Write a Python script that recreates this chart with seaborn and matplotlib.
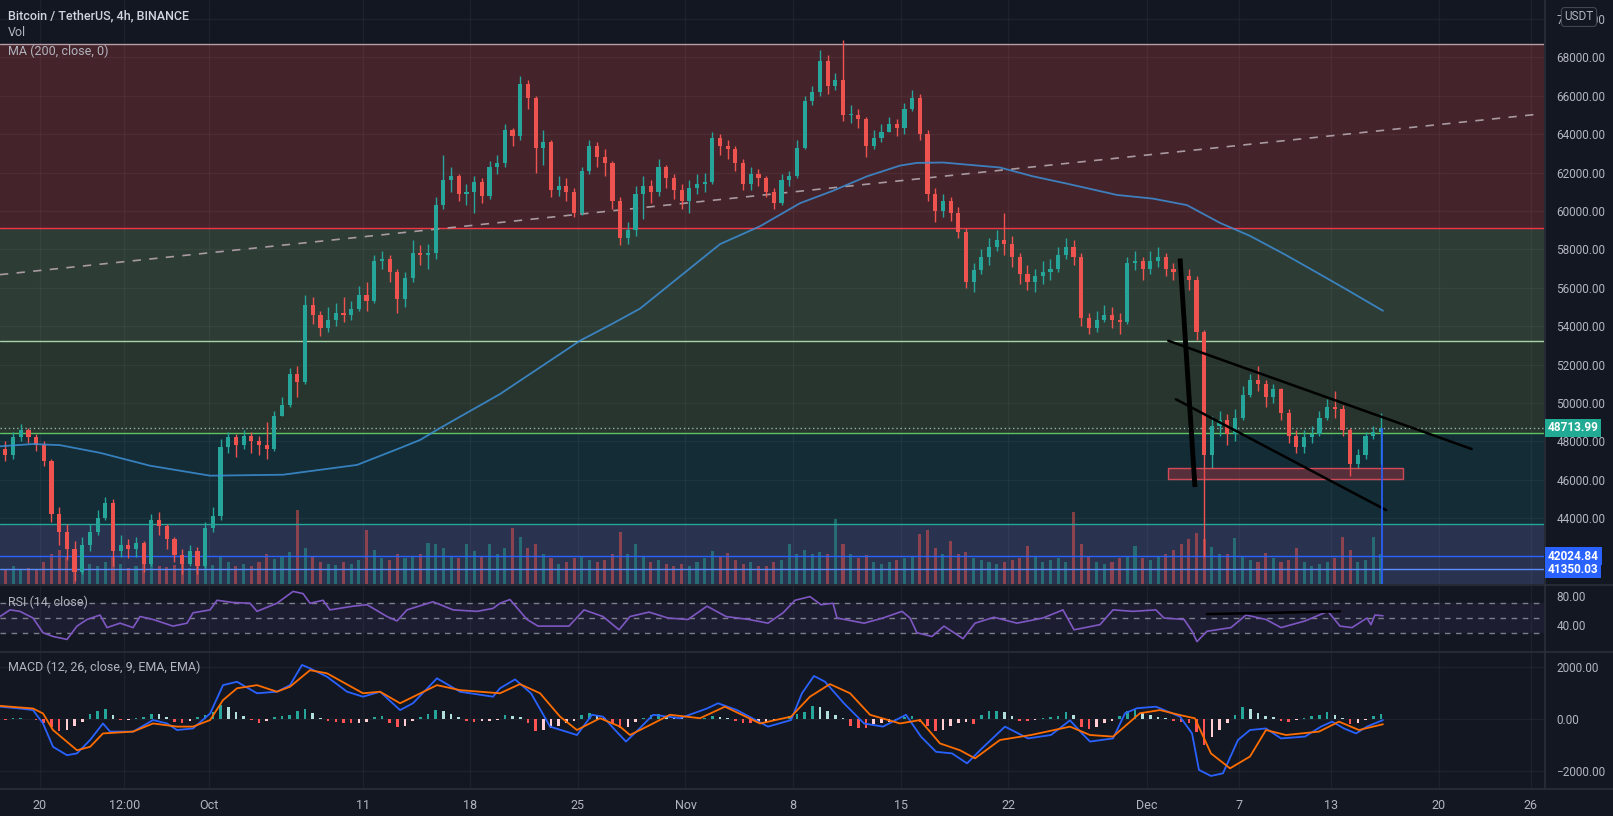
import numpy as np
import pandas as pd
import matplotlib
matplotlib.use("Agg")
import matplotlib.pyplot as plt
import seaborn as sns
from matplotlib.lines import Line2D
from matplotlib.patches import Rectangle

sns.set_theme(style="dark")
plt.rcParams['font.family'] = ['Roboto', 'DejaVu Sans']

# ---------------- data ----------------
first_open = 47600
closes = [47300, 48200, 48600, 48200, 47800, 47000, 44200, 43300, 42400, 41200,
          42600, 43300, 44000, 44800, 42300, 42600, 42400, 42700, 41600, 43900,
          43600, 42900, 42100, 41600, 42300, 41500, 43500, 44100, 47700, 48200,
          47800, 48300, 48000, 47800, 47600, 49300, 49900, 51500, 51100, 55100,
          54600, 53900, 54300, 54700, 54600, 54900, 55600, 55300, 57400, 57500,
          56800, 55400, 56500, 57800, 57700, 57800, 60300, 61600, 61800, 60900,
          61000, 61500, 60800, 62300, 62500, 64200, 63900, 66600, 65900, 63300,
          63600, 61100, 61300, 61000, 59900, 62100, 63400, 62800, 62500, 60500,
          58600, 59000, 60900, 61300, 61000, 62300, 61700, 61100, 60500, 61200,
          61400, 61500, 63800, 63400, 63200, 62500, 61400, 61900, 61700, 61000,
          60400, 61600, 61800, 63300, 65700, 66200, 67800, 66500, 66800, 65000,
          65000, 64800, 63400, 63800, 64100, 64500, 64300, 65300, 65900, 64000,
          60900, 60000, 60500, 59900, 58900, 56300, 56900, 57600, 58100, 58500,
          58300, 57600, 56700, 56300, 56600, 56800, 57000, 57700, 58100, 57600,
          54400, 53900, 54300, 54600, 54300, 54200, 57300, 57400, 57000, 57400,
          57600, 57000, 56800, 56600, 56400, 53700, 47300, 48800, 49100, 48400,
          49200, 50400, 51200, 51000, 50300, 50700, 49500, 48300, 47700, 48200,
          48400, 49200, 49800, 49700, 48600, 46800, 47300, 48300, 48500, 48714]
highs = [48000, 48500, 48900, 48700, 48400, 48000, 47100, 44600, 43700, 42800,
         43000, 43700, 44400, 45100, 45000, 43100, 42900, 43000, 42800, 44200,
         44300, 43700, 43000, 42400, 42600, 42500, 43800, 44600, 48100, 48500,
         48400, 48600, 48500, 48300, 49000, 49600, 50300, 51800, 51900, 55600,
         55500, 54800, 55000, 55200, 55500, 55300, 56100, 56300, 57700, 57900,
         57700, 57000, 56800, 58500, 58200, 58300, 60700, 62900, 62300, 61900,
         61400, 61800, 61700, 62600, 62900, 64500, 64300, 67000, 66800, 66000,
         64200, 63700, 61800, 61700, 61200, 62300, 63700, 63600, 63200, 62600,
         60700, 59400, 61300, 61800, 61600, 62700, 62400, 61900, 61400, 61600,
         61900, 62000, 64100, 64000, 63700, 63400, 62700, 62300, 62200, 61800,
         61200, 61900, 62100, 63700, 66000, 66500, 68400, 68100, 67200, 68900,
         65500, 65300, 64900, 64200, 64500, 64900, 64800, 65600, 66300, 66100,
         64200, 61200, 60900, 60700, 60200, 59100, 57300, 58000, 58600, 59000,
         59900, 58700, 57800, 57200, 57000, 57400, 57500, 58100, 58600, 58500,
         57800, 54700, 54800, 55100, 55000, 54700, 57600, 57900, 57600, 57900,
         58100, 57800, 57300, 57200, 57000, 56600, 53800, 49300, 49600, 49400,
         49700, 50900, 51500, 51900, 51200, 51000, 50800, 49700, 48600, 48600,
         48800, 49600, 50200, 50600, 49900, 48700, 47600, 48500, 48800, 49500]
lows = [47000, 47100, 48000, 47900, 47500, 46700, 43800, 42600, 41800, 40700,
        41100, 42300, 43100, 43900, 41500, 42000, 41900, 42000, 41200, 41500,
        43100, 42400, 41700, 41100, 41500, 41100, 41400, 43300, 43900, 47400,
        47200, 47600, 47400, 47300, 47100, 47500, 49300, 49800, 50300, 51000,
        54100, 53500, 53700, 54000, 54200, 54300, 54800, 54800, 55200, 57000,
        56300, 54700, 55000, 56300, 57200, 57000, 57500, 60100, 61000, 60500,
        60300, 59900, 60400, 60600, 61900, 62300, 63400, 63700, 65300, 62000,
        62400, 60700, 60800, 60500, 59700, 59800, 61900, 62300, 61800, 60100,
        58200, 58300, 58700, 59600, 60400, 60800, 61200, 60600, 60100, 59900,
        60900, 61000, 61400, 62900, 62700, 62100, 61100, 61100, 61300, 60700,
        60100, 60300, 61300, 61700, 63200, 65500, 66000, 66100, 66300, 64700,
        64600, 64300, 62800, 63200, 63600, 64100, 63900, 64000, 65200, 63700,
        60500, 59400, 59700, 59500, 58600, 56000, 55800, 56700, 57200, 57900,
        57700, 57100, 56200, 55900, 55800, 56200, 56400, 56800, 57500, 57200,
        54000, 53600, 53700, 54200, 53900, 53600, 54100, 56900, 56400, 56700,
        57100, 56600, 56400, 56200, 55900, 53300, 42000, 46600, 48300, 47800,
        48000, 49100, 50300, 50600, 49800, 50000, 49100, 47900, 47400, 47400,
        47900, 48300, 49100, 49200, 48300, 46200, 46600, 47100, 48100, 46800]
volumes = [14, 18, 15, 16, 14, 22, 30, 34, 28, 30,
           22, 20, 18, 22, 28, 20, 16, 18, 22, 24,
           18, 17, 19, 22, 16, 20, 20, 19, 28, 22,
           18, 20, 18, 22, 30, 25, 28, 32, 74, 36,
           28, 22, 20, 19, 22, 20, 24, 54, 34, 26,
           24, 30, 26, 28, 30, 41, 40, 36, 28, 26,
           40, 33, 28, 40, 30, 36, 56, 47, 36, 40,
           30, 26, 20, 22, 26, 28, 24, 22, 24, 30,
           52, 30, 40, 28, 22, 24, 20, 18, 20, 18,
           22, 26, 33, 28, 31, 24, 20, 22, 18, 18,
           22, 24, 40, 30, 34, 30, 32, 30, 65, 40,
           30, 26, 29, 22, 20, 22, 24, 26, 28, 50,
           54, 36, 30, 43, 30, 32, 26, 24, 22, 20,
           22, 24, 26, 38, 28, 22, 24, 26, 22, 72,
           40, 28, 22, 20, 22, 26, 28, 38, 26, 24,
           28, 30, 34, 40, 45, 51, 45, 37, 30, 30,
           46, 28, 24, 22, 31, 26, 22, 24, 36, 22,
           18, 20, 22, 26, 47, 34, 22, 24, 47, 30]
macd_hist = [-30, 20, 30, 0, -30, -150, -300, -450, -400, -250,
             -100, 200, 300, 400, 150, -30, -20, 20, 80, 200,
             180, 60, -100, -160, -80, 80, 150, 250, 550, 450,
             250, 120, -50, -150, -80, 60, 120, 150, 300, 400,
             220, 30, -80, -120, -150, -160, -150, -100, 80, 100,
             -150, -300, -250, -80, 60, 200, 330, 300, 180, 60,
             -60, -100, -90, -60, -40, 150, 120, 60, -150, -450,
             -420, -330, -250, -150, -60, 150, 220, 120, 50, -200,
             -350, -300, -120, 50, 150, 180, 100, 50, 20, 10,
             0, 30, 120, 80, 30, -80, -150, -150, -120, -100,
             -60, 20, 100, 200, 250, 500, 450, 300, 150, 30,
             -250, -330, -330, -200, -150, -100, -50, 80, 120, -100,
             -250, -450, -400, -250, -150, -120, -200, 150, 300, 320,
             250, 100, -60, -80, -40, 40, 80, 120, 250, 150,
             -300, -380, -300, -150, -60, 120, 300, 400, 250, 150,
             60, 30, -60, -100, -150, -500, -1000, -700, -400, -150,
             150, 450, 400, 220, 120, 60, -80, -100, -50, 30,
             100, 150, 250, 150, 50, -200, -150, -50, 120, 200]

# indicator lines, x = days from 2021-10-01
ma_day = [-13.60, -11.45, -9.69, -7.09, -3.84, 0.07, 4.81, 9.63, 12.43, 13.73, 15.03, 18.93,
          24.14, 26.28, 28.04, 33.25, 35.85, 38.45, 40.60, 42.81, 44.96, 46.06, 47.76, 51.46,
          53.61, 55.82, 59.08, 61.42, 63.63, 65.78, 67.73, 70.07, 72.28, 74.24, 76.38]
ma_val = [47740, 47860, 47800, 47400, 46730, 46210, 46260, 46770, 47650, 48070, 48690, 50460,
          53240, 54140, 54910, 58270, 59200, 60400, 61050, 61800, 62360, 62500, 62520, 62260,
          61800, 61420, 60830, 60640, 60300, 59375, 58700, 57700, 56700, 55800, 54800]

rsi_day = [-13.60, -12.95, -12.30, -11.45, -10.80, -10.15, -9.24, -8.59, -7.94, -7.09, -6.64,
           -5.79, -4.94, -4.49, -3.64, -2.34, -1.43, -1.04, 0.07, 0.52, 1.56, 2.67, 3.12, 4.42,
           5.47, 6.12, 6.57, 7.42, 7.87, 9.37, 10.28, 11.58, 12.23, 12.88, 14.57, 15.88, 17.44,
           18.48, 18.93, 19.58, 20.69, 21.41, 23.42, 24.40, 25.63, 26.68, 27.39, 28.63, 29.86,
           31.16, 32.40, 33.64, 35.13, 36.37, 37.35, 38.13, 39.10, 39.82, 40.60, 40.86, 42.62,
           43.85, 45.09, 45.61, 46.06, 47.04, 47.82, 49.06, 49.84, 51.07, 52.57, 54.26, 55.56,
           56.28, 57.97, 58.82, 60.12, 61.61, 62.13, 63.44, 63.96, 64.28, 64.93, 66.49, 67.47,
           68.77, 69.75, 71.31, 72.80, 73.59, 74.37, 75.34, 75.60, 75.86, 76.38]
rsi_val = [52, 61, 59, 50, 30, 25, 21, 39, 48, 54, 37,
           43, 37, 52, 48, 39, 43, 57, 61, 74, 71, 70, 59, 70,
           86, 83, 70, 74, 61, 66, 68, 52, 46, 61, 72, 61, 59,
           63, 70, 75, 48, 39, 39, 61, 52, 34, 52, 58, 50,
           48, 66, 52, 48, 43, 57, 74, 79, 68, 70, 50, 43,
           50, 59, 50, 30, 25, 39, 22, 43, 51, 43, 50, 61,
           34, 41, 61, 59, 61, 50, 48, 32, 18, 32, 37, 54,
           48, 37, 46, 59, 39, 37, 50, 41, 54, 53]

macd_day = [-13.60, -12.30, -11.45, -10.80, -10.15, -9.24, -8.59, -7.74, -6.90, -6.44, -4.94,
            -3.64, -2.73, -2.08, -1.04, 0.07, 0.91, 1.82, 3.12, 4.42, 5.27, 6.05, 6.57, 7.68,
            8.98, 10.02, 11.13, 12.43, 13.27, 14.83, 16.33, 18.48, 18.93, 19.91, 20.95, 22.19,
            23.94, 24.92, 25.63, 26.42, 27.13, 27.91, 28.89, 30.64, 32.40, 33.12, 34.35, 36.37,
            37.87, 38.58, 39.36, 40.08, 41.31, 42.62, 43.85, 45.35, 46.32, 47.30, 48.34, 49.32,
            50.29, 51.79, 53.29, 54.78, 56.02, 56.80, 57.32, 58.82, 59.60, 60.38, 61.61, 63.18,
            63.96, 64.41, 65.19, 65.97, 66.95, 67.73, 68.77, 69.75, 71.31, 72.35, 73.07, 73.85,
            74.63, 75.34, 76.38]
macd_val = [470, 400, 340, -170, -1060, -1380, -1310, -800, -170, -480, -480,
            -40, -170, -420, -360, 210, 1290, 1420, 980, 1040, 1290, 2060, 1930, 1610,
            1040, 850, 1040, 340, 600, 1550, 1040, 850, 1170, 1510, 980, -290,
            -610, 160, 90, -420, -860, -420, 160, 30, 400, 600, 340, -290,
            -40, 980, 1640, 1420, 600, -170, -290, 160, -670, -1250, -1310, -1690,
            -1120, -290, -740, -610, -50, -550, -860, -740, 220, 410, 470, 90,
            -550, -1940, -2170, -2070, -800, -420, -360, -740, -670, -290, -100, -360,
            -550, -290, -40]
signal_day = [-13.60, -11.45, -10.80, -10.15, -8.59, -7.74, -6.90, -4.94, -3.64, -2.08, -1.04,
              0.07, 0.91, 1.82, 3.12, 4.42, 5.27, 6.57, 7.68, 10.02, 11.13, 12.43, 14.83, 16.33,
              18.93, 20.23, 21.54, 22.84, 23.94, 25.44, 26.74, 27.39, 28.69, 29.99, 31.95, 33.57,
              35.85, 37.87, 39.10, 40.40, 41.71, 43.01, 44.96, 46.26, 47.56, 48.86, 49.84, 51.46,
              53.48, 56.02, 57.32, 58.82, 60.57, 61.87, 63.18, 64.15, 65.19, 66.43, 67.73, 68.77,
              70.07, 72.22, 73.52, 74.82, 76.38]
signal_val = [500, 400, 210, -420, -1190, -1060, -550, -480, -170, -290, -290,
              -40, 720, 1170, 1290, 1040, 1230, 1860, 1740, 980, 1040, 600, 1290, 1100,
              980, 1330, 980, 90, -420, 30, -290, -610, -230, 160, 30, 470,
              -170, 90, 850, 1330, 980, 160, -170, -40, -930, -1190, -1500, -800,
              -610, -290, -610, -670, 220, 340, 150, 25, -1310, -1880, -1430, -420,
              -610, -480, -100, -420, -200]

# horizontal zones and levels
zone_edges = [68690, 59125, 53205, 48440, 43680, 40500]
zone_colors = ['#45232b', '#2e3c36', '#27352e', '#132c36', '#29334f']
level_prices = [68690, 59125, 53205, 48440, 43680, 42024.84, 41350.03]
level_colors = ['#b59ea6', '#f23645', '#a5d6a7', '#5cc463', '#26a69a', '#2962ff', '#5b8cff']
last_price = 48713.99

# drawings
dash_line = ([-13.60, 86.40], [56680, 65030])
thick_line = ([63.18, 64.15], [57520, 45620])
wedge_upper = ([62.41, 82.15], [53240, 47600])
wedge_lower = ([62.91, 76.58], [50190, 44420])
box_days = [62.39, 77.70]
box_prices = [46020, 46595]
rsi_line = ([64.93, 73.59], [55.3, 59.0])
last_bar_day = 76.30

tick_days = [-11, -5.5, 0, 10, 17, 24, 31, 38, 45, 52, 61, 67, 73, 80, 86]
tick_labels = ['20', '12:00', 'Oct', '11', '18', '25', 'Nov', '8', '15', '22', 'Dec', '7', '13', '20', '26']
price_ticks = list(range(44000, 70001, 2000))

# ---------------- figure ----------------
BG = '#131722'
TXT = '#b2b5be'
SEP = '#2a2e39'
W, H = 1613, 816
fig = plt.figure(figsize=(W / 100, H / 100), dpi=100, facecolor=BG)


def box(x0, y0, x1, y1):
    return [x0 / W, 1 - y1 / H, (x1 - x0) / W, (y1 - y0) / H]


XL = (-13.6, 86.86)
PY = (40569, 70984)

ax_bg = fig.add_axes(box(0, 0, 1544, 584))
ax_vol = fig.add_axes(box(0, 0, 1544, 584), sharex=ax_bg)
ax = fig.add_axes(box(0, 0, 1544, 584), sharex=ax_bg)
axr = fig.add_axes(box(0, 585, 1544, 651), sharex=ax_bg)
axm = fig.add_axes(box(0, 652, 1544, 788), sharex=ax_bg)

for a in (ax_bg, ax_vol, ax, axr, axm):
    for s in a.spines.values():
        s.set_visible(False)
    a.tick_params(length=0)
ax_vol.patch.set_visible(False)
ax.patch.set_visible(False)
for a in (ax_bg, axr, axm):
    a.set_facecolor(BG)

# background zones
ax_bg.set_ylim(*PY)
ax_bg.set_xlim(*XL)
for i, c in enumerate(zone_colors):
    ax_bg.axhspan(zone_edges[i + 1], zone_edges[i], color=c, lw=0, zorder=0)
ax_bg.set_xticks(tick_days)
ax_bg.set_yticks(price_ticks)
ax_bg.grid(True, color='#ffffff', alpha=0.045, lw=1)
ax_bg.tick_params(labelbottom=False, labelleft=False)

# volume
times = pd.date_range('2021-09-17 18:00', periods=len(closes), freq='12h')
cday = ((times - pd.Timestamp('2021-10-01')) / pd.Timedelta('1D')).values
c = np.array(closes, float)
o = np.r_[first_open, c[:-1]]
hi = np.array(highs, float)
lo = np.array(lows, float)
up = c >= o
ccol = np.where(up, '#26a69a', '#ef5350')
ax_vol.bar(cday, volumes, width=0.2, color=ccol, alpha=0.5, lw=0)
ax_vol.set_ylim(0, 584)
ax_vol.set_yticks([])
ax_vol.tick_params(labelbottom=False, labelleft=False)

# price panel
ax.set_ylim(*PY)
ax.set_xlim(*XL)
for p, col in zip(level_prices, level_colors):
    ax.axhline(p, color=col, lw=1, zorder=1)
ax.axhline(last_price, color='#b2dfdb', lw=1, ls=(0, (1, 2)), alpha=0.75, zorder=1)
ax.plot(*dash_line, color='#a89aa0', lw=1.2, ls=(0, (5, 5)), zorder=2)
ax.vlines(cday, lo, hi, colors=ccol, lw=1, zorder=3)
ax.bar(cday, np.maximum(np.abs(c - o), 40), bottom=np.minimum(o, c), width=0.27,
       color=ccol, lw=0, zorder=4)
sns.lineplot(x=ma_day, y=ma_val, ax=ax, color='#3d8fd6', lw=1.3, alpha=0.85,
             estimator=None, sort=False, legend=False, zorder=5)
ax.plot(*thick_line, color='black', lw=3.5, zorder=6, solid_capstyle='butt')
ax.plot(*wedge_upper, color='black', lw=1.8, zorder=6)
ax.plot(*wedge_lower, color='black', lw=1.8, zorder=6)
ax.add_patch(Rectangle((box_days[0], box_prices[0]), box_days[1] - box_days[0],
                       box_prices[1] - box_prices[0], facecolor='#f23645', alpha=0.3,
                       edgecolor='none', zorder=5))
ax.add_patch(Rectangle((box_days[0], box_prices[0]), box_days[1] - box_days[0],
                       box_prices[1] - box_prices[0], facecolor='none',
                       edgecolor='#f7525f', lw=1, alpha=0.8, zorder=5))
ax.vlines([last_bar_day], PY[0], last_price, colors='#2962ff', lw=1.2, zorder=6)
ax.yaxis.tick_right()
ax.set_yticks(price_ticks)
ax.set_yticklabels([f'{v:.2f}' for v in price_ticks])
ax.tick_params(axis='y', labelcolor=TXT, labelsize=8.5, pad=9, length=0)
ax.tick_params(labelbottom=False)
ax.set_xlabel('')
ax.set_ylabel('')

# RSI panel
axr.set_ylim(5.3, 94.7)
axr.axhspan(30, 70, color='#7e57c2', alpha=0.1, lw=0)
for lvl in (70, 50, 30):
    axr.axhline(lvl, color='#9598a1', lw=1, ls=(0, (4, 4)), alpha=0.8)
sns.lineplot(x=rsi_day, y=rsi_val, ax=axr, color='#7e57c2', lw=1.2,
             estimator=None, sort=False, legend=False)
axr.plot(*rsi_line, color='black', lw=1.8)
axr.yaxis.tick_right()
axr.set_yticks([80, 40])
axr.set_yticklabels(['80.00', '40.00'])
axr.tick_params(axis='y', labelcolor=TXT, labelsize=8.5, pad=9, length=0)
axr.tick_params(labelbottom=False)
axr.grid(True, axis='x', color='#ffffff', alpha=0.045, lw=1)
axr.set_xlabel('')
axr.set_ylabel('')

# MACD panel
axm.set_ylim(-2629, 2553)
hcols = []
prev = 0
for hv in macd_hist:
    if hv >= 0:
        hcols.append('#26a69a' if hv > prev else '#b2dfdb')
    else:
        hcols.append('#ffcdd2' if hv > prev else '#ff5252')
    prev = hv
axm.bar(cday, macd_hist, width=0.17, color=hcols, lw=0)
sns.lineplot(x=macd_day, y=macd_val, ax=axm, color='#2962ff', lw=1.3,
             estimator=None, sort=False, legend=False)
sns.lineplot(x=signal_day, y=signal_val, ax=axm, color='#ff6d00', lw=1.3,
             estimator=None, sort=False, legend=False)
axm.yaxis.tick_right()
axm.set_yticks([2000, 0, -2000])
axm.set_yticklabels(['2000.00', '0.00', '\u22122000.00'])
axm.tick_params(axis='y', labelcolor=TXT, labelsize=8.5, pad=9, length=0)
axm.grid(True, color='#ffffff', alpha=0.045, lw=1)
axm.set_xticks(tick_days)
axm.set_xticklabels(tick_labels)
axm.tick_params(axis='x', labelcolor=TXT, labelsize=9, pad=8, length=0)
axm.set_xlim(*XL)
axm.set_xlabel('')
axm.set_ylabel('')

# separators
for yy in (584.5, 651.5, 788.5):
    fig.add_artist(Line2D([0, 1], [1 - yy / H] * 2, color=SEP, lw=1.2))
fig.add_artist(Line2D([1544.5 / W] * 2, [1 - 788.5 / H, 1], color=SEP, lw=1.2))

# legends / titles
fig.text(8 / W, 1 - 16 / H, 'Bitcoin / TetherUS, 4h, BINANCE', color='#d1d4dc',
         fontsize=9, va='center', ha='left', fontweight='medium')
fig.text(8 / W, 1 - 33 / H, 'Vol', color=TXT, fontsize=9, va='center', ha='left')
fig.text(8 / W, 1 - 51 / H, 'MA (200, close, 0)', color=TXT, fontsize=9, va='center', ha='left')
fig.text(8 / W, 1 - 602 / H, 'RSI (14, close)', color=TXT, fontsize=9, va='center', ha='left')
fig.text(8 / W, 1 - 667 / H, 'MACD (12, 26, close, 9, EMA, EMA)', color=TXT, fontsize=9,
         va='center', ha='left')

# right-axis price tags
fig.canvas.draw()


def tag(value, fc):
    yf = fig.transFigure.inverted().transform(ax.transData.transform((0, value)))[1]
    fig.text(1548 / W, yf, f'{value:.2f}', color='white', fontsize=8.5, fontweight='bold',
             va='center', ha='left',
             bbox=dict(boxstyle='square,pad=0.22', fc=fc, ec='none'))


tag(last_price, '#22ab94')
tag(42024.84, '#2962ff')
tag(41350.03, '#2962ff')
fig.text(1579 / W, 1 - 17 / H, 'USDT', color=TXT, fontsize=8.5, va='center', ha='center',
         bbox=dict(boxstyle='round,pad=0.25,rounding_size=0.3', fc=BG, ec='#434651', lw=0.8))

fig.savefig('out.png', dpi=100, facecolor=BG)
